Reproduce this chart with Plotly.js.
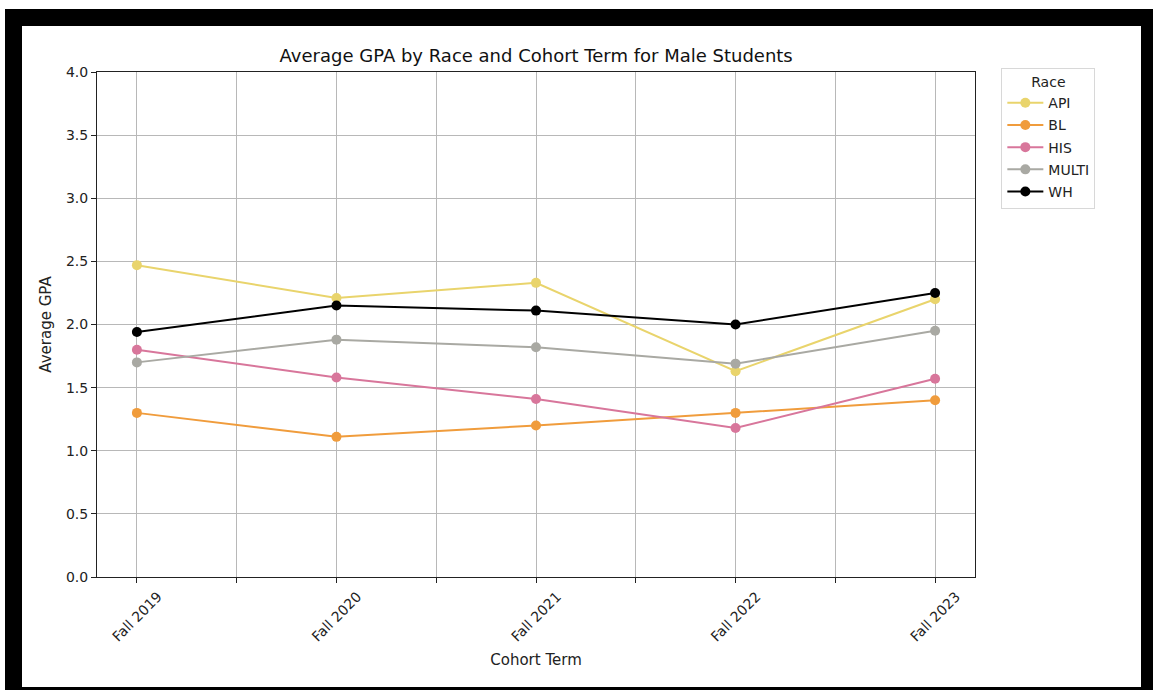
<!DOCTYPE html>
<html>
<head>
<meta charset="utf-8">
<script src="https://cdn.plot.ly/plotly-3.0.1.min.js"></script>
<style>
html, body { margin: 0; padding: 0; background: #ffffff; width: 1153px; height: 690px; overflow: hidden; }
#frame { position: absolute; left: 5px; top: 9px; width: 1148px; height: 681px; background: #000000; }
#chart { position: absolute; left: 17px; top: 17px; width: 1119px; height: 661px; background: #ffffff; }
</style>
</head>
<body>
<div id="frame"><div id="chart"></div></div>
<script>
const categories = ["Fall 2019", "Fall 2020", "Fall 2021", "Fall 2022", "Fall 2023"];
const seriesNames = ["API", "BL", "HIS", "MULTI", "WH"];
const api   = [2.47, 2.21, 2.33, 1.63, 2.20];
const bl    = [1.30, 1.11, 1.20, 1.30, 1.40];
const his   = [1.80, 1.58, 1.41, 1.18, 1.57];
const multi = [1.70, 1.88, 1.82, 1.69, 1.95];
const wh    = [1.94, 2.15, 2.11, 2.00, 2.25];
const colors = ["#e9d46c", "#f09c3c", "#d8769b", "#a9a9a3", "#000000"];

const values = [api, bl, his, multi, wh];
const xIdx = categories.map((c, i) => i);

// tick positions every half step, labels only on the categories
const tickVals = [];
const tickText = [];
categories.forEach((c, i) => {
  tickVals.push(i); tickText.push(c);
  if (i < categories.length - 1) { tickVals.push(i + 0.5); tickText.push(""); }
});

const traces = seriesNames.map((name, k) => ({
  type: "scatter",
  mode: "lines+markers",
  name: name,
  legendgroup: name,
  x: xIdx,
  y: values[k],
  line: { color: colors[k], width: 2 },
  marker: { color: colors[k], size: 10 }
}));

const font = "DejaVu Sans, sans-serif";

const layout = {
  width: 1119,
  height: 661,
  paper_bgcolor: "#ffffff",
  plot_bgcolor: "#ffffff",
  font: { family: font, size: 14, color: "#222222" },
  margin: { l: 75, r: 166, t: 46, b: 110 },
  title: {
    text: "Average GPA by Race and Cohort Term for Male Students",
    font: { family: font, size: 18, color: "#111111" },
    x: 0.4595, xanchor: "center", y: 0.955, yanchor: "middle"
  },
  xaxis: {
    range: [-0.2, 4.2],
    tickmode: "array",
    tickvals: tickVals,
    ticktext: tickText,
    tickangle: -45,
    ticklabelshift: 21,
    showgrid: true,
    gridcolor: "#b8b8b8",
    gridwidth: 1,
    zeroline: false,
    showline: true,
    linecolor: "#222222",
    linewidth: 1,
    mirror: true,
    ticks: "outside",
    ticklen: 5,
    tickcolor: "#222222",
    tickfont: { family: font, size: 14, color: "#222222" },
    title: { text: "Cohort Term", font: { family: font, size: 15, color: "#222222" }, standoff: 10 }
  },
  yaxis: {
    range: [0, 4],
    dtick: 0.5,
    tick0: 0,
    tickformat: ".1f",
    showgrid: true,
    gridcolor: "#b8b8b8",
    gridwidth: 1,
    zeroline: false,
    showline: true,
    linecolor: "#222222",
    linewidth: 1,
    mirror: true,
    ticks: "outside",
    ticklen: 5,
    tickcolor: "#222222",
    tickfont: { family: font, size: 14, color: "#222222" },
    title: { text: "Average GPA", font: { family: font, size: 15, color: "#222222" }, standoff: 10 }
  },
  legend: {
    title: { text: "Race", side: "top center", font: { family: font, size: 14, color: "#222222" } },
    font: { family: font, size: 14, color: "#222222" },
    x: 1.03, xanchor: "left",
    y: 1.008, yanchor: "top",
    bordercolor: "#d8d8d8",
    borderwidth: 1,
    bgcolor: "#ffffff",
    itemwidth: 36,
    tracegroupgap: 1
  },
  showlegend: true
};

Plotly.newPlot("chart", traces, layout, { displayModeBar: false, staticPlot: true });
</script>
</body>
</html>
